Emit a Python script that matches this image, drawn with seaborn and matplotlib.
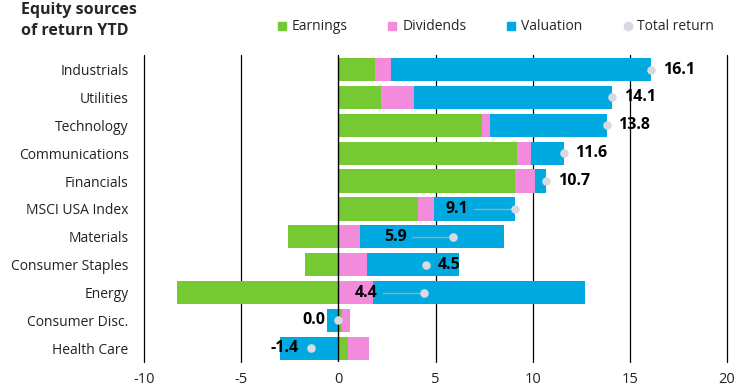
import numpy as np
import pandas as pd
import matplotlib
matplotlib.use("Agg")
import matplotlib.pyplot as plt
from matplotlib.lines import Line2D
import seaborn as sns

# ---------- data ---------- #
sectors = ["Industrials", "Utilities", "Technology", "Communications", "Financials",
           "MSCI USA Index", "Materials", "Consumer Staples", "Energy",
           "Consumer Disc.", "Health Care"]
earnings = [1.9, 2.2, 7.4, 9.2, 9.1, 4.1, -2.6, -1.7, -8.3, 0.2, 0.5]
dividends = [0.8, 1.7, 0.4, 0.7, 1.0, 0.8, 1.1, 1.5, 1.8, 0.4, 1.1]
valuation = [13.4, 10.2, 6.0, 1.7, 0.6, 4.2, 7.4, 4.7, 10.9, -0.6, -3.0]
totals = [16.1, 14.1, 13.8, 11.6, 10.7, 9.1, 5.9, 4.5, 4.4, 0.0, -1.4]

# how each total label is placed
label_mode = ["right", "right", "right", "right", "right",
              "callout", "callout", "right", "callout", "left", "left"]

GREEN = "#76C932"
PINK = "#F38BDD"
BLUE = "#00A9E0"
DOT = "#D9D9E3"

sns.set_theme(style="white")
plt.rcParams["font.family"] = ["Open Sans", "DejaVu Sans"]
plt.rcParams["axes.unicode_minus"] = False

df = pd.DataFrame({"sector": sectors, "Earnings": earnings,
                   "Dividends": dividends, "Valuation": valuation})

# positive parts stack up from 0, negative parts stack down from 0
comps = ["Earnings", "Dividends", "Valuation"]
pos = df[comps].clip(lower=0).cumsum(axis=1)
neg = df[comps].clip(upper=0).cumsum(axis=1)

fig = plt.figure(figsize=(7.4, 3.89), dpi=100)
ax = fig.add_axes([144 / 740, 0.0694, (727 - 144) / 740, 0.8586 - 0.0694])

# grid lines under the bars
for xv in range(-10, 21, 5):
    if xv != 0:
        ax.axvline(xv, color="black", lw=0.9, zorder=0, clip_on=False)

colors = {"Earnings": GREEN, "Dividends": PINK, "Valuation": BLUE}
for c in reversed(comps):
    for part in (pos, neg):
        sns.barplot(x=part[c].values, y=df["sector"], orient="h", color=colors[c],
                    saturation=1, width=0.835, linewidth=0, ax=ax, zorder=2)

ax.axvline(0, color="black", lw=1.0, zorder=3)

ypos = np.arange(len(sectors))
sns.scatterplot(x=totals, y=ypos, color=DOT, s=38, linewidth=0, zorder=5, ax=ax)

for i, (t, mode) in enumerate(zip(totals, label_mode)):
    txt = f"{t:.1f}"
    if mode == "right":
        ax.text(t + 0.6, i, txt, ha="left", va="center", fontsize=11.5,
                fontweight="bold", color="black", zorder=6)
    elif mode == "left":
        ax.text(t - 0.65, i, txt, ha="right", va="center", fontsize=11.5,
                fontweight="bold", color="black", zorder=6)
    else:
        ax.plot([t - 2.1, t], [i, i], color="#A6A6A6", lw=1.0, zorder=4)
        ax.text(t - 2.4, i, txt, ha="right", va="center", fontsize=11.5,
                fontweight="bold", color="black", zorder=6)

ax.set_xlim(-10, 20)
ax.set_ylim(10.49, -0.52)
ax.set_xticks(range(-10, 21, 5))
ax.set_yticks(ypos)
ax.set_yticklabels(sectors)
ax.set_xlabel("")
ax.set_ylabel("")
ax.tick_params(axis="x", length=0, pad=7, labelsize=10.5, labelcolor="#222222")
ax.tick_params(axis="y", length=0, pad=11, labelsize=10, labelcolor="#222222")
sns.despine(ax=ax, left=True, bottom=True)
ax.set_facecolor("none")

fig.text(21 / 740, 1 - 2 / 389, "Equity sources\nof return YTD", ha="left", va="top",
         fontsize=11.5, fontweight="bold", linespacing=1.4)

handles = [
    Line2D([], [], marker="s", ls="", color=GREEN, markersize=6),
    Line2D([], [], marker="s", ls="", color=PINK, markersize=6),
    Line2D([], [], marker="s", ls="", color=BLUE, markersize=6),
    Line2D([], [], marker="o", ls="", color=DOT, markersize=6),
]
fig.legend(handles, ["Earnings", "Dividends", "Valuation", "Total return"],
           loc="center", bbox_to_anchor=(0.669, 1 - 27 / 389), ncol=4, frameon=False,
           fontsize=10, handlelength=0.8, handletextpad=0.3, columnspacing=2.85)

fig.savefig("out.png", dpi=100)
